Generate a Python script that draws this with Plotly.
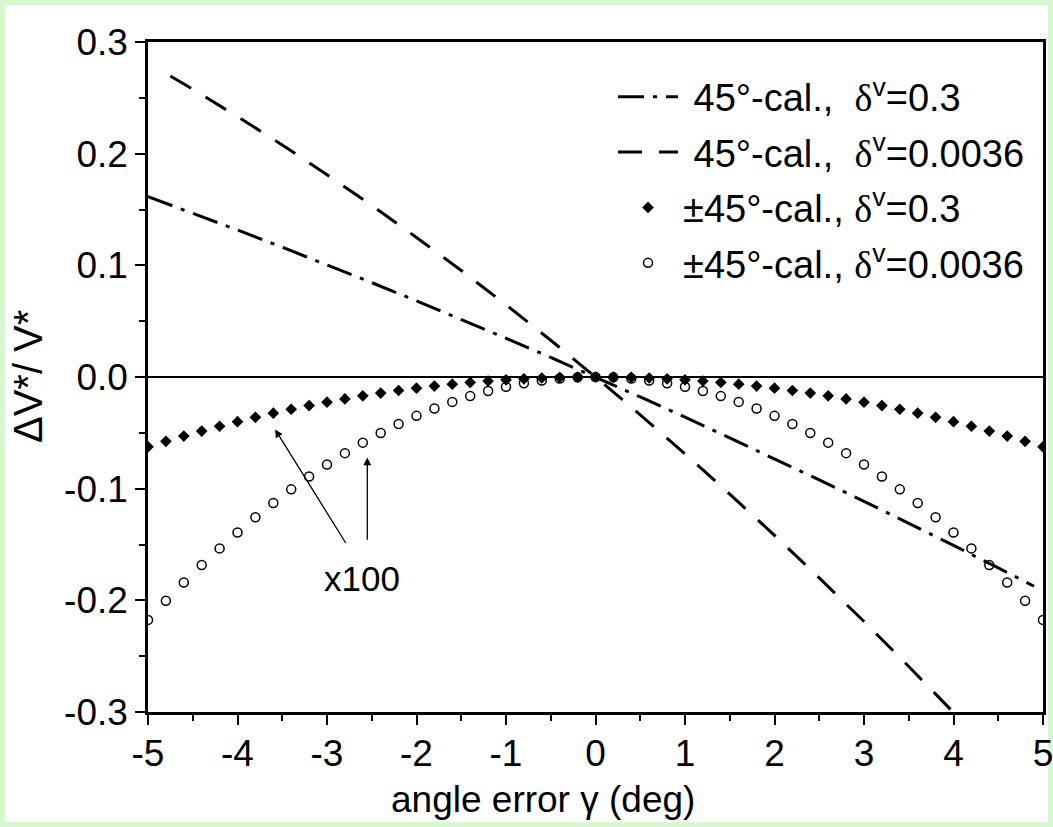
import plotly.graph_objects as go

# ---- data ----
x_pts = [-5.0, -4.8, -4.6, -4.4, -4.2, -4.0, -3.8, -3.6, -3.4, -3.2, -3.0, -2.8, -2.6, -2.4, -2.2, -2.0,
         -1.8, -1.6, -1.4, -1.2, -1.0, -0.8, -0.6, -0.4, -0.2, 0.0, 0.2, 0.4, 0.6, 0.8, 1.0, 1.2, 1.4,
         1.6, 1.8, 2.0, 2.2, 2.4, 2.6, 2.8, 3.0, 3.2, 3.4, 3.6, 3.8, 4.0, 4.2, 4.4, 4.6, 4.8, 5.0]
pm45_d03 = [-0.0625, -0.0576, -0.0529, -0.0484, -0.0441, -0.0400, -0.0361, -0.0324, -0.0289, -0.0256,
            -0.0225, -0.0196, -0.0169, -0.0144, -0.0121, -0.0100, -0.0081, -0.0064, -0.0049, -0.0036,
            -0.0025, -0.0016, -0.0009, -0.0004, -0.0001, 0.0, -0.0001, -0.0004, -0.0009, -0.0016,
            -0.0025, -0.0036, -0.0049, -0.0064, -0.0081, -0.0100, -0.0121, -0.0144, -0.0169, -0.0196,
            -0.0225, -0.0256, -0.0289, -0.0324, -0.0361, -0.0400, -0.0441, -0.0484, -0.0529, -0.0576, -0.0625]
pm45_d0036 = [-0.2175, -0.2004, -0.1841, -0.1684, -0.1535, -0.1392, -0.1256, -0.1128, -0.1006, -0.0891,
              -0.0783, -0.0682, -0.0588, -0.0501, -0.0421, -0.0348, -0.0282, -0.0223, -0.0171, -0.0125,
              -0.0087, -0.0056, -0.0031, -0.0014, -0.0003, 0.0, -0.0003, -0.0014, -0.0031, -0.0056,
              -0.0087, -0.0125, -0.0171, -0.0223, -0.0282, -0.0348, -0.0421, -0.0501, -0.0588, -0.0682,
              -0.0783, -0.0891, -0.1006, -0.1128, -0.1256, -0.1392, -0.1535, -0.1684, -0.1841, -0.2004, -0.2175]

x_dd = [-5.0, -4.5, -4.0, -3.5, -3.0, -2.5, -2.0, -1.5, -1.0, -0.5, 0.0, 0.5, 1.0, 1.5, 2.0, 2.5, 3.0, 3.5, 4.0, 4.5, 4.9]
cal45_d03 = [0.1615, 0.1467, 0.1316, 0.1162, 0.1005, 0.0845, 0.0682, 0.0516, 0.0347, 0.0175, 0.0,
             -0.0179, -0.0359, -0.0544, -0.0730, -0.0921, -0.1113, -0.1309, -0.1508, -0.1710, -0.1874]

x_da = [-4.75, -4.5, -4.0, -3.5, -3.0, -2.5, -2.0, -1.5, -1.0, -0.5, 0.0, 0.5, 1.0, 1.5, 2.0, 2.5, 3.0, 3.5, 4.0]
cal45_d0036 = [0.2695, 0.2577, 0.2332, 0.2078, 0.1812, 0.1537, 0.1250, 0.0954, 0.0646, 0.0329, 0.0,
               -0.0339, -0.0688, -0.1048, -0.1418, -0.1799, -0.2190, -0.2592, -0.3004]

x_ticks = [-5, -4, -3, -2, -1, 0, 1, 2, 3, 4, 5]
x_ticklabels = ["-5", "-4", "-3", "-2", "-1", "0", "1", "2", "3", "4", "5"]
y_ticks = [-0.3, -0.2, -0.1, 0.0, 0.1, 0.2, 0.3]
y_ticklabels = ["-0.3", "-0.2", "-0.1", "0.0", "0.1", "0.2", "0.3"]

SERIF = "Liberation Serif"
FONT = "Liberation Sans, Arial, sans-serif"
FS = 37
NB = "\u00a0"


def lab(pre, val):
    return (pre + "<span style='font-family:" + SERIF + "'>δ</span><sup>v</sup>=" + val)


fig = go.Figure()
fig.add_trace(go.Scatter(x=x_dd, y=cal45_d03, mode="lines",
                         line=dict(color="black", width=3, dash="26px,9px,4px,9px"),
                         name=lab(NB + "45°-cal.," + NB + NB, "0.3"), legendgroup="a"))
fig.add_trace(go.Scatter(x=x_da, y=cal45_d0036, mode="lines",
                         line=dict(color="black", width=3, dash="24px,17px"),
                         name=lab(NB + "45°-cal.," + NB + NB, "0.0036"), legendgroup="b"))
fig.add_trace(go.Scatter(x=x_pts, y=pm45_d03, mode="markers",
                         marker=dict(symbol="diamond", size=9, color="black"),
                         name=lab("±45°-cal.," + NB, "0.3"), legendgroup="c"))
fig.add_trace(go.Scatter(x=x_pts, y=pm45_d0036, mode="markers",
                         marker=dict(symbol="circle-open", size=9, color="black", line=dict(width=1.5)),
                         name=lab("±45°-cal.," + NB, "0.0036"), legendgroup="d"))

# x100 annotation with two arrows
fig.add_annotation(x=-2.61, y=-0.180, text="x100", showarrow=False,
                   font=dict(size=35, color="black", family=FONT))
fig.add_annotation(x=-3.58, y=-0.047, ax=-2.78, ay=-0.150, axref="x", ayref="y",
                   text="", showarrow=True, arrowhead=2, arrowsize=1.2, arrowwidth=1.3, arrowcolor="black")
fig.add_annotation(x=-2.55, y=-0.072, ax=-2.55, ay=-0.147, axref="x", ayref="y",
                   text="", showarrow=True, arrowhead=2, arrowsize=1.2, arrowwidth=1.3, arrowcolor="black")

# axis titles
fig.add_annotation(xref="paper", yref="paper", x=0.441, y=-0.13, xanchor="center", yanchor="middle",
                   text="angle error γ (deg)", showarrow=False,
                   font=dict(size=FS, color="black", family=FONT))
fig.add_annotation(xref="paper", yref="paper", x=-0.134, y=0.5, xanchor="center", yanchor="middle",
                   textangle=-90, text="ΔV*/ V*", showarrow=False,
                   font=dict(size=40, color="black", family=FONT))

# white page area inside a light green frame
fig.add_shape(type="rect", xref="paper", yref="paper", x0=-0.1598, x1=1.0056, y0=-0.1642, y1=1.0552,
              fillcolor="white", line=dict(width=0), layer="below")

axis_common = dict(showline=True, linecolor="black", linewidth=2.5, mirror=True,
                   ticks="outside", ticklen=10, tickwidth=2, tickcolor="black", automargin=False,
                   ticklabeloverflow="allow",
                   showgrid=False, tickfont=dict(size=FS, color="black", family=FONT))

fig.update_xaxes(range=[-5, 5], tickvals=x_ticks, ticktext=x_ticklabels, zeroline=False,
                 ticklabelstandoff=-3,
                 minor=dict(ticks="outside", dtick=0.5, ticklen=6, tickwidth=2, tickcolor="black"),
                 **axis_common)
fig.update_yaxes(range=[-0.3, 0.3], tickvals=y_ticks, ticktext=y_ticklabels,
                 zeroline=True, zerolinecolor="black", zerolinewidth=2,
                 minor=dict(ticks="outside", dtick=0.05, ticklen=6, tickwidth=2, tickcolor="black"),
                 **axis_common)

fig.update_layout(
    width=1053, height=827,
    margin=dict(l=148, r=10, t=42, b=115),
    paper_bgcolor="#d6f7cf", plot_bgcolor="white",
    font=dict(family=FONT, color="black"),
    legend=dict(x=0.9855, y=0.965, xanchor="right", yanchor="top", bgcolor="rgba(0,0,0,0)",
                font=dict(size=38, color="black", family=FONT), tracegroupgap=3,
                itemwidth=60),
    showlegend=True,
)

fig.write_html("out.html", config={"displayModeBar": False},
               post_script="document.body.style.margin='0px';document.body.style.overflow='hidden';")
